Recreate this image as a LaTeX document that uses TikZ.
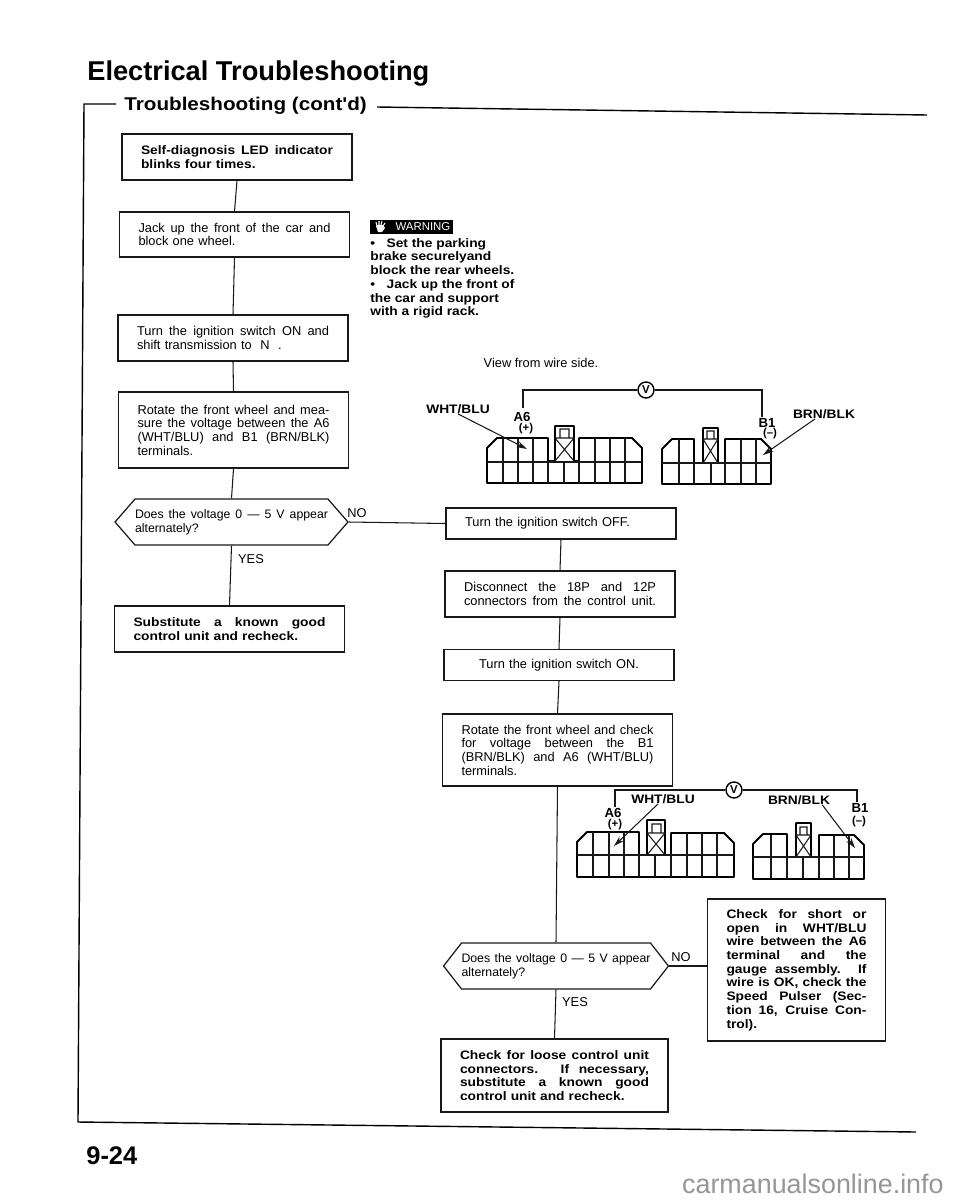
\documentclass[tikz,border=0pt]{standalone}
\usepackage{fontspec}
\setmainfont{Liberation Sans}
\newfontfamily\widebf[FakeStretch=1.12]{Liberation Sans Bold}
\usepackage{xcolor}
\usetikzlibrary{
  arrows.meta,
  shapes.symbols
}
\definecolor{inkclr}{RGB}{25, 25, 25}
\definecolor{markclr}{RGB}{150,150,150}
\newcommand{\jl}[1]{\makebox[\hsize][s]{\spaceskip=0pt\xspaceskip=0pt #1}}
\tikzset{
  % Oblongs of the flow chart
  stepbox/.style     = {draw=inkclr, line width=.7pt, inner xsep=.38cm, inner ysep=0pt, text width=3.84cm,
                        align=left, font=\fontsize{7.3}{7.8}\selectfont},
  boldbox/.style     = {stepbox, font=\fontsize{7}{7.8}\selectfont\widebf},
  % Questions
  askbox/.style      = {stepbox, shape=signal, signal to=east and west, signal pointer angle=98,
                        inner xsep=0pt, text width=3.86cm, minimum height=.92cm,
                        font=\fontsize{7}{7.8}\selectfont},
  % Connectors
  flowline/.style    = {semithick, draw=inkclr},
  frameline/.style   = {line width=.8pt, draw=black},
  pointer/.style     = {semithick, draw=inkclr, -{Stealth[length=6pt,width=3.5pt]}},
  % Connector blocks
  plugline/.style    = {line width=1.1pt, draw=black, line join=round},
  cellline/.style    = {semithick, draw=inkclr},
  % Labels
  wirelab/.style     = {font=\fontsize{7}{8}\selectfont\widebf, inner sep=0pt},
  termlab/.style     = {font=\fontsize{7.5}{8}\selectfont\bfseries, inner sep=0pt},
  polelab/.style     = {font=\fontsize{6.5}{8}\selectfont\bfseries, inner sep=0pt},
  meter/.style       = {circle, draw=black, line width=.8pt, inner sep=0pt, minimum size=.32cm,
                        font=\fontsize{6.5}{7}\selectfont\bfseries},
  flowlab/.style     = {font=\fontsize{7.3}{8}\selectfont, inner sep=0pt},
}
\begin{document}
\begin{tikzpicture}[x=.02cm,y=-.02cm]
  \useasboundingbox (0,0) rectangle (960,1200);
  % Headings
  \node[anchor=west,inner sep=0pt,font=\fontsize{15.5}{16}\selectfont\bfseries] (title) at (87,74) {Electrical Troubleshooting};
  \node[anchor=west,inner sep=0pt,font=\fontsize{10.5}{12}\selectfont\widebf] (subtitle) at (124,106) {Troubleshooting (cont'd)};
  \node[anchor=west,inner sep=0pt,font=\fontsize{14.5}{16}\selectfont\bfseries] (pagenum) at (86,1156) {9-24};
  \node[anchor=east,inner sep=0pt,text=markclr,font=\fontsize{15.3}{16}\selectfont] (site) at (944,1184) {carmanualsonline.info};
  % Page frame
  \coordinate (fa) at (84,104);
  \coordinate (fb) at (78,1122);
  \coordinate (fc) at (916,1132);
  \coordinate (fd) at (927,115);
  \draw[frameline] (116,104) -- (fa) -- (fb) -- (fc);
  \draw[frameline] (377,107) -- (fd);

  % Left column
  \node[boldbox,minimum height=.92cm] (selfdiag) at (237,157)
    {\jl{Self-diagnosis LED indicator}\\blinks four times.};
  \node[stepbox,minimum height=.9cm] (jack) at (234.5,234.5)
    {\jl{Jack up the front of the car and}\\block one wheel.};
  \node[stepbox,minimum height=.92cm] (ignon) at (233,338)
    {\jl{Turn the ignition switch ON and}\\shift transmission to \ N \ .};
  \node[stepbox,minimum height=1.52cm] (rotate) at (233.5,430)
    {\jl{Rotate the front wheel and mea-}\\\jl{sure the voltage between the A6}\\\jl{(WHT/BLU) and B1 (BRN/BLK)}\\terminals.};
  \node[askbox] (askA) at (231.5,522)
    {\jl{Does the voltage 0 --- 5 V appear}\\alternately?};
  \node[boldbox,minimum height=.92cm] (subst) at (229.5,629)
    {\jl{Substitute a known good}\\control unit and recheck.};

  % Right column
  \node[stepbox,minimum height=.62cm] (ignoff) at (561,523.5) {Turn the ignition switch OFF.};
  \node[stepbox,minimum height=.92cm] (disc) at (560,594)
    {\jl{Disconnect the 18P and 12P}\\\jl{connectors from the control unit.}};
  \node[stepbox,align=center,minimum height=.62cm] (ignon2) at (559,665) {Turn the ignition switch ON.};
  \node[stepbox,minimum height=1.44cm] (rotate2) at (557.5,750)
    {\jl{Rotate the front wheel and check}\\\jl{for voltage between the B1}\\\jl{(BRN/BLK) and A6 (WHT/BLU)}\\terminals.};
  \node[askbox,text width=3.78cm,signal pointer angle=104] (askB) at (556,966)
    {\jl{Does the voltage 0 --- 5 V appear}\\alternately?};
  \node[boldbox,text width=3.78cm,minimum height=1.46cm] (loose) at (554.5,1075.5)
    {\jl{Check for loose control unit}\\\jl{connectors. If necessary,}\\\jl{substitute a known good}\\control unit and recheck.};
  \node[boldbox,text width=2.8cm,minimum height=2.84cm] (short) at (796.5,970)
    {\jl{Check for short or}\\\jl{open in WHT/BLU}\\\jl{wire between the A6}\\\jl{terminal and the}\\\jl{gauge assembly. If}\\\jl{wire is OK, check the}\\\jl{Speed Pulser (Sec-}\\\jl{tion 16, Cruise Con-}\\trol).};

  % Connectors of the chart
  \draw[flowline] (selfdiag.south) -- (jack.north);
  \draw[flowline] (jack.south) -- (ignon.north);
  \draw[flowline] (ignon.south) -- (rotate.north);
  \draw[flowline] (rotate.south) -- (askA.north);
  \draw[flowline] (askA.south) -- (subst.north);
  \draw[flowline] (askA.east) -- (ignoff.west);
  \draw[flowline] (ignoff.south) -- (disc.north);
  \draw[flowline] (disc.south) -- (ignon2.north);
  \draw[flowline] (ignon2.south) -- (rotate2.north);
  \draw[flowline] (rotate2.south) -- (askB.north);
  \draw[flowline] (askB.south) -- (loose.north);
  \draw[flowline] (askB.east) -- (short.west |- askB.east);
  \node[flowlab] (noA) at (357,513) {NO};
  \node[flowlab] (yesA) at (251,559) {YES};
  \node[flowlab] (noB) at (681,957) {NO};
  \node[flowlab] (yesB) at (575,1002) {YES};

  % Warning
  \node[fill=black,text=white,anchor=west,inner xsep=.06cm,inner ysep=0pt,minimum height=.28cm,
    font=\fontsize{6.5}{7}\selectfont,text width=1.54cm,align=right] (warn) at (370,227) {WARNING};
  \fill[white] (376,226) -- (378,225) -- (383,225) -- (385,228) -- (382,232) -- (378,232) -- cycle;
  \draw[white,semithick] (377,226) -- (376,222) (379,225) -- (379,221) (381,225) -- (382,221) (383,226) -- (385,223);
  \node[anchor=north west,inner sep=0pt,align=left,font=\fontsize{7}{7.8}\selectfont\widebf] (warntext) at (370,238)
    {\textbullet\ \ \ Set the parking\\brake securelyand\\block the rear wheels.\\\textbullet\ \ \ Jack up the front of\\the car and support\\with a rigid rack.};
  \node[flowlab] (side) at (541,363) {View from wire side.};

  % Upper pair of blocks
  \draw[plugline] (487,448) -- (497,438) -- (548,438) -- (548,461) -- (555,461) -- (555,426) -- (574,426)
    -- (574,461) -- (579,461) -- (579,438) -- (632,438) -- (642,448) -- (642,483) -- (487,483) -- cycle;
  \draw[cellline] (487,462) -- (642,462);
  \foreach \cx in {503,518,533} \draw[cellline] (\cx,438) -- (\cx,483);
  \foreach \cx in {595,610,625} \draw[cellline] (\cx,438) -- (\cx,483);
  \foreach \cx in {548,564,579} \draw[cellline] (\cx,462) -- (\cx,483);
  \draw[cellline] (555,438) -- (574,438) (555,438) -- (574,461) (574,438) -- (555,461) (560,438) -- (560,429) -- (569,429) -- (569,438);
  \draw[plugline] (662,449) -- (672,439) -- (694,439) -- (694,463) -- (703,463) -- (703,428) -- (718,428)
    -- (718,463) -- (725,463) -- (725,439) -- (761,439) -- (771,449) -- (771,484) -- (662,484) -- cycle;
  \draw[cellline] (662,463) -- (771,463);
  \foreach \cx in {679,741,756} \draw[cellline] (\cx,439) -- (\cx,484);
  \foreach \cx in {694,711,725} \draw[cellline] (\cx,463) -- (\cx,484);
  \draw[cellline] (703,439) -- (718,439) (703,439) -- (718,463) (718,439) -- (703,463) (707,439) -- (707,431) -- (714,431) -- (714,439);
  \node[meter] (voltA) at (646,390) {V};
  \coordinate (pinA) at (523,408);
  \coordinate (pinB) at (762,417);
  \draw[flowline] (pinA) |- (voltA.west);
  \draw[flowline] (voltA.east) -| (pinB);
  \node[termlab] (aA) at (522,417) {A6};
  \node[polelab] (apA) at (526,429) {(+)};
  \node[termlab] (bA) at (767,423) {B1};
  \node[polelab] (bmA) at (770,434) {(--)};
  \node[wirelab] (whtA) at (458,409) {WHT/BLU};
  \node[wirelab] (brnA) at (824,414) {BRN/BLK};
  \coordinate (tipA) at (527,449);
  \coordinate (tipB) at (763,455);
  \draw[pointer] (whtA.south) -- (tipA);
  \draw[pointer] ([xshift=-.18cm]brnA.south) -- (tipB);

  % Lower pair of blocks
  \draw[plugline] (577,842) -- (587,832) -- (639,832) -- (639,855) -- (647,855) -- (647,820) -- (665,820)
    -- (665,855) -- (671,855) -- (671,833) -- (724,833) -- (734,843) -- (734,877) -- (577,877) -- cycle;
  \draw[cellline] (577,855) -- (734,855);
  \foreach \cx in {593,609,624} \draw[cellline] (\cx,832) -- (\cx,877);
  \foreach \cx in {687,702,717} \draw[cellline] (\cx,833) -- (\cx,877);
  \foreach \cx in {639,655,671} \draw[cellline] (\cx,855) -- (\cx,877);
  \draw[cellline] (647,833) -- (665,833) (647,833) -- (665,855) (665,833) -- (647,855) (652,833) -- (652,824) -- (661,824) -- (661,833);
  \draw[plugline] (753,844) -- (763,834) -- (787,834) -- (787,857) -- (796,857) -- (796,823) -- (811,823)
    -- (811,857) -- (819,857) -- (819,835) -- (854,835) -- (864,845) -- (864,879) -- (753,879) -- cycle;
  \draw[cellline] (753,857) -- (864,857);
  \foreach \cx in {771,834,849} \draw[cellline] (\cx,835) -- (\cx,879);
  \foreach \cx in {787,803,819} \draw[cellline] (\cx,857) -- (\cx,879);
  \draw[cellline] (796,835) -- (811,835) (796,835) -- (811,857) (811,835) -- (796,857) (800,835) -- (800,827) -- (807,827) -- (807,835);
  \node[meter] (voltB) at (734,790) {V};
  \coordinate (pinC) at (615,807);
  \coordinate (pinD) at (857,802);
  \draw[flowline] (pinC) |- (voltB.west);
  \draw[flowline] (voltB.east) -| (pinD);
  \node[termlab] (aB) at (613,813) {A6};
  \node[polelab] (apB) at (615,825) {(+)};
  \node[termlab] (bB) at (860,808) {B1};
  \node[polelab] (bmB) at (859,822) {(--)};
  \node[wirelab] (whtB) at (663,799) {WHT/BLU};
  \node[wirelab] (brnB) at (799,800) {BRN/BLK};
  \coordinate (tipC) at (614,846);
  \coordinate (tipD) at (855,848);
  \draw[pointer] ([xshift=-.1cm]whtB.south) -- (tipC);
  \draw[pointer] ([xshift=-.16cm]brnB.south east) -- (tipD);
\end{tikzpicture}
\end{document}
